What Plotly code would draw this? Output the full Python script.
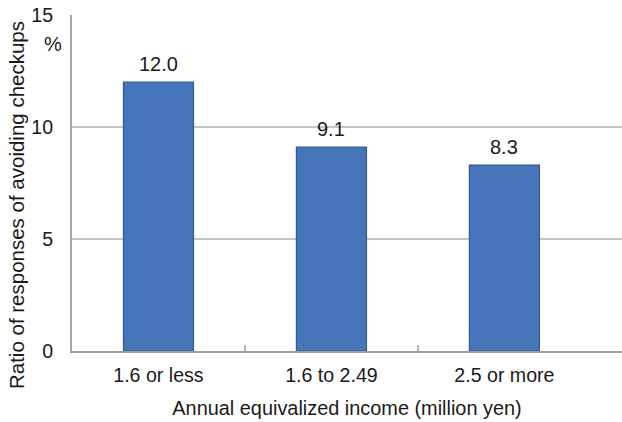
import plotly.graph_objects as go

categories = ["1.6 or less", "1.6 to 2.49", "2.5 or more"]
ratios = [12.0, 9.1, 8.3]
y_ticks = [0, 5, 10, 15]

FONT = "Liberation Sans, Arial, sans-serif"
x_pos = list(range(len(categories)))

fig = go.Figure()
fig.add_trace(go.Bar(
    x=x_pos,
    y=ratios,
    width=0.405,
    marker=dict(color="#4676b9", line=dict(color="#2f5c94", width=1.2)),
    hoverinfo="skip",
    showlegend=False,
))

# value labels above each bar
for xi, v in zip(x_pos, ratios):
    fig.add_annotation(
        x=xi, y=v, text=f"{v:.1f}", showarrow=False,
        yanchor="bottom", yshift=5,
        font=dict(family=FONT, size=20, color="#1a1a1a"),
    )

# unit marker under the top tick label
fig.add_annotation(
    xref="paper", yref="paper", x=-0.015, y=0.915, text="%",
    showarrow=False, xanchor="right", yanchor="middle",
    font=dict(family=FONT, size=20, color="#1a1a1a"),
)

# vertical axis title
fig.add_annotation(
    xref="paper", yref="paper", x=-0.102, y=0.434,
    text="Ratio of responses of avoiding checkups", textangle=-90,
    showarrow=False, xanchor="center", yanchor="middle",
    font=dict(family=FONT, size=20.5, color="#1a1a1a"),
)

fig.update_layout(
    width=622, height=422,
    margin=dict(l=72, r=0, t=15, b=71),
    paper_bgcolor="white",
    plot_bgcolor="white",
    xaxis=dict(
        range=[-0.5, 2.68],
        tickvals=x_pos, ticktext=categories,
        ticks="", showgrid=False, zeroline=False,
        showline=True, linecolor="#9e9e9e", linewidth=2,
        ticklabelstandoff=5,
        tickfont=dict(family=FONT, size=19.6, color="#1a1a1a"),
        title=dict(text="Annual equivalized income (million yen)",
                   font=dict(family=FONT, size=19.9, color="#1a1a1a"),
                   standoff=17),
        fixedrange=True,
    ),
    xaxis2=dict(
        overlaying="x", matches="x", side="bottom",
        tickvals=[0.5, 1.5], ticks="inside", ticklen=6,
        tickcolor="#b5b5b5", tickwidth=1.5,
        showticklabels=False, showgrid=False, zeroline=False,
        showline=False,
    ),
    yaxis=dict(
        range=[0, 15], tickvals=y_ticks,
        showgrid=True, gridcolor="#c4c4c4", gridwidth=2,
        zeroline=False, showline=True, linecolor="#a8a8a8", linewidth=2,
        ticks="", ticklabelstandoff=13,
        tickfont=dict(family=FONT, size=19.6, color="#1a1a1a"),
        fixedrange=True,
    ),
)

# invisible trace to activate the secondary x axis carrying the category dividers
fig.add_trace(go.Scatter(x=[0.5, 1.5], y=[0, 0], xaxis="x2", mode="markers",
                         marker=dict(opacity=0), hoverinfo="skip", showlegend=False))

fig.write_html("out.html")
